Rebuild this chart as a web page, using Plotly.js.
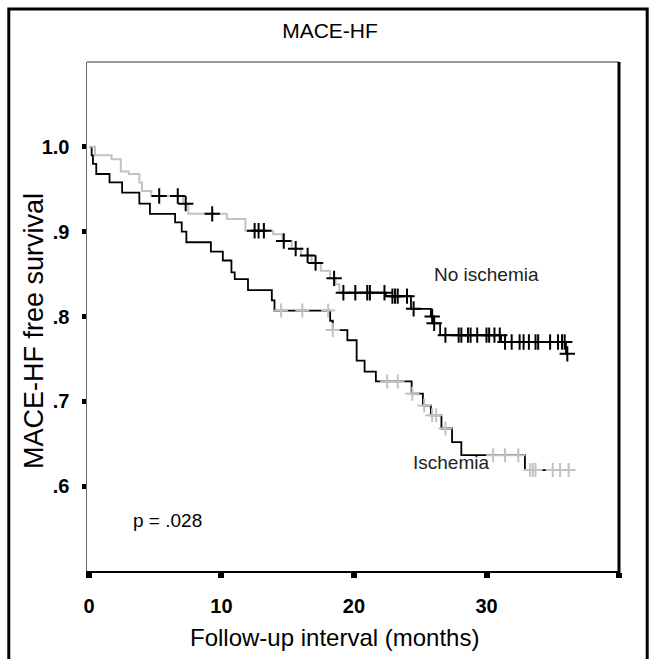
<!DOCTYPE html>
<html>
<head>
<meta charset="utf-8">
<script src="https://cdn.plot.ly/plotly-3.0.1.min.js"></script>
<style>html,body{margin:0;padding:0;background:#fff;}#chart{width:655px;height:659px;}</style>
</head>
<body>
<div id="chart"></div>
<script>
// ---- data ----
// No ischemia: event times (months) and survival after each event
const noIschTimes = [0, 0.45, 1.7, 2.4, 3.0, 3.8, 4.0, 4.7, 7.1, 7.5, 10.4, 11.8, 13.9, 14.6, 15.3, 16.0, 16.8, 17.5, 18.2, 18.6, 18.9, 22.4, 24.3, 25.8, 26.0, 26.5, 31.1, 36.0];
const noIschSurv  = [1.0, 0.990, 0.9855, 0.971, 0.968, 0.958, 0.948, 0.942, 0.933, 0.921, 0.915, 0.901, 0.897, 0.889, 0.880, 0.872, 0.863, 0.854, 0.845, 0.838, 0.828, 0.824, 0.809, 0.800, 0.792, 0.778, 0.770, 0.756];
const noIschCensor = [5.3, 6.7, 7.3, 9.3, 12.5, 12.8, 13.2, 14.7, 15.6, 16.5, 17.1, 18.5, 19.2, 20.1, 21.0, 21.2, 22.3, 22.9, 23.1, 23.3, 24.0, 24.5, 25.9, 26.05, 26.9, 27.9, 28.1, 28.6, 28.8, 29.3, 30.0, 30.2, 30.6, 31.0, 31.4, 31.9, 32.5, 32.8, 33.2, 33.7, 33.9, 34.8, 35.4, 35.7, 35.9, 36.1];
const noIschGreyUntil = 18.9;

// Ischemia
const ischTimes = [0, 0.2, 0.3, 0.55, 1.55, 2.5, 3.8, 4.6, 6.5, 7.0, 7.35, 9.2, 10.1, 10.75, 11.0, 12.0, 13.8, 14.0, 18.2, 18.4, 19.5, 20.2, 20.8, 21.65, 24.35, 25.2, 25.8, 26.6, 27.4, 28.1, 32.9];
const ischSurv  = [1.0, 0.990, 0.980, 0.968, 0.958, 0.946, 0.933, 0.921, 0.911, 0.900, 0.8875, 0.8765, 0.866, 0.852, 0.844, 0.831, 0.819, 0.807, 0.795, 0.784, 0.772, 0.748, 0.735, 0.7235, 0.709, 0.695, 0.6835, 0.668, 0.652, 0.6365, 0.619];
const ischCensor = [14.5, 16.1, 18.05, 18.4, 22.5, 23.3, 24.4, 25.3, 25.9, 26.2, 26.9, 30.5, 31.4, 32.4, 33.3, 33.5, 33.7, 35.0, 35.55, 36.2];

const xTicks = [0, 10, 20, 30, 40];
const xTickText = ['0', '10', '20', '30', ''];
const yTicks = [0.6, 0.7, 0.8, 0.9, 1.0];
const yTickText = ['.6', '.7', '.8', '.9', '1.0'];

const chartTitle = 'MACE-HF';
const xTitle = 'Follow-up interval (months)';
const yTitle = 'MACE-HF free survival';
const pText = 'p = .028';

// ---- helpers ----
function survAt(times, surv, t) {
  let s = surv[0];
  for (let i = 0; i < times.length; i++) { if (times[i] <= t) s = surv[i]; }
  return s;
}
function stepPath(times, surv, tStart, tEnd) {
  const x = [], y = [];
  x.push(tStart); y.push(survAt(times, surv, tStart));
  for (let i = 0; i < times.length; i++) {
    if (times[i] > tStart && times[i] <= tEnd) { x.push(times[i]); y.push(surv[i]); }
  }
  x.push(tEnd); y.push(survAt(times, surv, tEnd));
  return {x, y};
}

const noEnd = noIschCensor[noIschCensor.length - 1];
const isEnd = ischCensor[ischCensor.length - 1];
const noA = stepPath(noIschTimes, noIschSurv, 0, noIschGreyUntil);
const noB = stepPath(noIschTimes, noIschSurv, noIschGreyUntil, noEnd);
const isP = stepPath(ischTimes, ischSurv, 0, isEnd);

const GREY = '#c2c2c2';
const traces = [
  {x: isP.x, y: isP.y, mode: 'lines', line: {shape: 'hv', color: '#000', width: 1.8}, name: 'Ischemia', hoverinfo: 'skip'},
  {x: noA.x, y: noA.y, mode: 'lines', line: {shape: 'hv', color: GREY, width: 2}, name: 'No ischemia', hoverinfo: 'skip'},
  {x: noB.x, y: noB.y, mode: 'lines', line: {shape: 'hv', color: '#000', width: 1.8}, name: 'No ischemia', hoverinfo: 'skip'},
  {x: ischCensor, y: ischCensor.map(t => survAt(ischTimes, ischSurv, t)), mode: 'markers',
   marker: {symbol: 'cross-thin', size: 10, line: {color: GREY, width: 2}}, hoverinfo: 'skip'},
  {x: noIschCensor, y: noIschCensor.map(t => survAt(noIschTimes, noIschSurv, t)), mode: 'markers',
   marker: {symbol: 'cross-thin', size: 11, line: {color: '#000', width: 2}}, hoverinfo: 'skip'}
];

const FONT = 'Liberation Sans, Arial, sans-serif';
const layout = {
  width: 655, height: 659,
  margin: {l: 87, r: 36, t: 62, b: 88, pad: 0},
  paper_bgcolor: '#fff', plot_bgcolor: '#fff',
  showlegend: false,
  font: {family: FONT, color: '#000'},
  title: {text: chartTitle, font: {family: FONT, size: 21, color: '#000'},
          x: 330/655, xanchor: 'center', xref: 'container', y: 1 - 31/659, yanchor: 'middle', yref: 'container'},
  xaxis: {
    range: [-0.15, 40], tickvals: xTicks, ticktext: xTickText,
    ticks: 'outside', ticklen: 5, tickwidth: 6, tickcolor: '#000',
    showline: true, linecolor: '#000', linewidth: 2,
    showgrid: false, zeroline: false, ticklabelstandoff: 11,
    tickfont: {family: FONT, size: 20, color: '#000', weight: 'bold'}
  },
  yaxis: {
    range: [0.5, 1.1], tickvals: yTicks, ticktext: yTickText,
    ticks: 'outside', ticklen: 4, tickwidth: 5, tickcolor: '#000',
    showline: true, linecolor: '#666', linewidth: 1.5,
    showgrid: false, zeroline: false, ticklabelstandoff: 8,
    tickfont: {family: FONT, size: 20, color: '#000', weight: 'bold'}
  },
  shapes: [
    // plot frame: top (grey, thin) and right (black, thick)
    {type: 'line', xref: 'paper', yref: 'paper', x0: 0, x1: 1, y0: 1, y1: 1, line: {color: '#777', width: 1.5}},
    {type: 'line', xref: 'paper', yref: 'paper', x0: 1, x1: 1, y0: -0.012, y1: 1, line: {color: '#000', width: 3}},
    // outer figure border
    {type: 'rect', xref: 'paper', yref: 'paper', x0: -0.147, x1: 1.053, y0: -0.2, y1: 1.104, line: {color: '#000', width: 3}}
  ],
  annotations: [
    {x: (334 - 87) / 532, y: (571 - 637) / 509, xref: 'paper', yref: 'paper', text: xTitle, showarrow: false,
     font: {family: FONT, size: 24, color: '#000'}, xanchor: 'center', yanchor: 'middle'},
    {x: (34 - 87) / 532, y: (571 - 331) / 509, xref: 'paper', yref: 'paper', text: yTitle, showarrow: false, textangle: -90,
     font: {family: FONT, size: 27, color: '#000'}, xanchor: 'center', yanchor: 'middle'},
    {x: 30, y: 0.849, xref: 'x', yref: 'y', text: 'No ischemia', showarrow: false,
     font: {family: FONT, size: 19, color: '#222'}, xanchor: 'center', yanchor: 'middle'},
    {x: 27.3, y: 0.628, xref: 'x', yref: 'y', text: 'Ischemia', showarrow: false,
     font: {family: FONT, size: 19, color: '#222'}, xanchor: 'center', yanchor: 'middle'},
    {x: 5.9, y: 0.559, xref: 'x', yref: 'y', text: pText, showarrow: false,
     font: {family: FONT, size: 19, color: '#000'}, xanchor: 'center', yanchor: 'middle'}
  ]
};

Plotly.newPlot('chart', traces, layout, {staticPlot: true, displayModeBar: false});
</script>
</body>
</html>
